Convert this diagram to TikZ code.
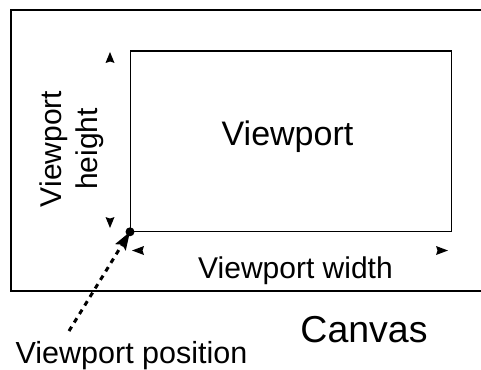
\documentclass[tikz,border=0pt]{standalone}
\usepackage{fontspec}
\setmainfont{Liberation Sans}
\usetikzlibrary{arrows.meta}
\begin{document}
\begin{tikzpicture}[x=1pt,y=-1pt,
  lbl/.style={inner sep=0pt,anchor=base,text=black},
  tipshape/.style={fill=black},
  dashconn/.style={line width=3pt,dash pattern=on 5pt off 5pt,
    -{Stealth[length=18pt,width=12pt,inset=3pt]}}]
\useasboundingbox (0,0) rectangle (481,369);
% canvas (right side clipped)
\draw[line width=1.5pt] (481,10) -- (11,10) -- (11,291) -- (481,291);
% viewport
\node[draw,line width=1.3pt,minimum width=321pt,minimum height=180pt,inner sep=0pt,anchor=north west] (view) at (130,50.5) {};
\coordinate (corner) at (view.south west);
\node[lbl,font=\fontsize{34}{40}\selectfont] (vtitle) at (287.5,145) {Viewport};
\node[lbl,font=\fontsize{30}{35}\selectfont] (vwidth) at (295.5,278) {Viewport width};
\node[lbl,font=\fontsize{37.5}{44}\selectfont] (canvas) at (364,342) {Canvas};
\node[lbl,font=\fontsize{30.5}{36}\selectfont] (vpos) at (131.5,363) {Viewport position};
\node[inner sep=0pt,rotate=90,align=center,font=\fontsize{30}{36}\selectfont] (vheight) at (72,149) {Viewport\\height};
% dimension tips
\fill[tipshape] (110,52) -- (114.5,63) -- (110,61.5) -- (105.5,63) -- cycle;
\fill[tipshape] (110,228) -- (114.5,217) -- (110,218.5) -- (105.5,217) -- cycle;
\fill[tipshape] (132,250.5) -- (144,246) -- (142.5,250.5) -- (144,255) -- cycle;
\fill[tipshape] (448,250.5) -- (436,246) -- (437.5,250.5) -- (436,255) -- cycle;
% position pointer
\coordinate (pstart) at (69,331);
\fill (corner) circle (4.5pt);
\draw[dashconn] (pstart) -- (corner);
\end{tikzpicture}
\end{document}
